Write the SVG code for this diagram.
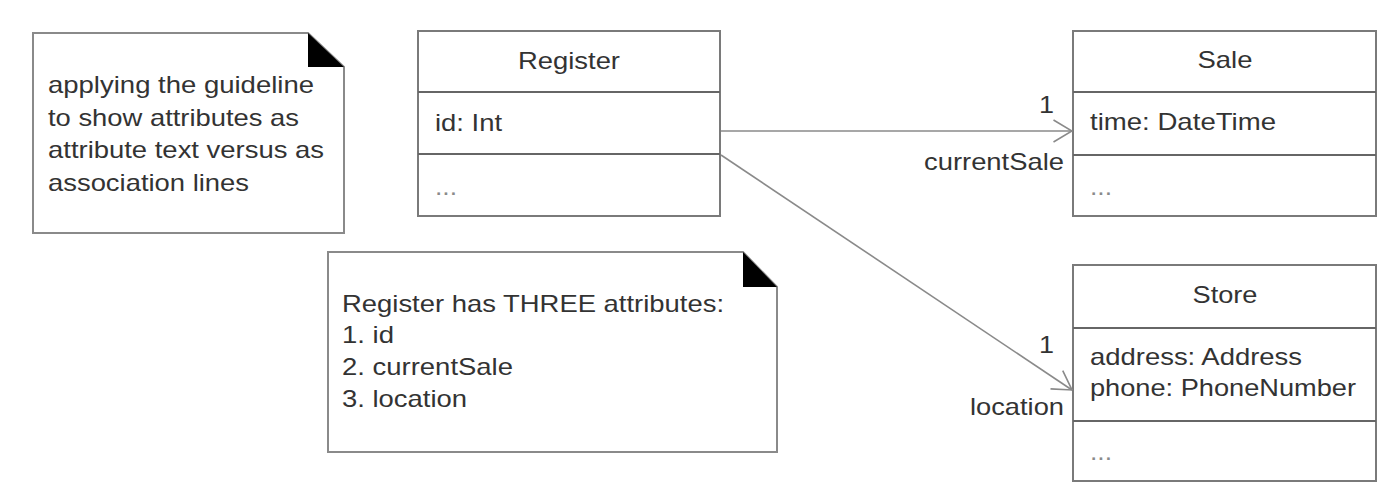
<svg xmlns="http://www.w3.org/2000/svg" width="1394" height="498" viewBox="0 0 1394 498">
  <style>
    .bg { fill: #ffffff; }
    .box { fill: #ffffff; stroke: #7a7a7a; stroke-width: 2; }
    .div { stroke: #666666; stroke-width: 2; }
    .note { fill: #ffffff; stroke: #8a8a8a; stroke-width: 2; }
    .fold { fill: #000000; }
    .t { font-family: "Liberation Sans", Arial, sans-serif; font-size: 24px; fill: #333333; }
    .c { text-anchor: middle; }
    .e { text-anchor: end; }
    .dots { fill: #8a8a8a; }
    .conn { stroke: #8a8a8a; stroke-width: 1.6; fill: none; }
  </style>
  <defs>
    <marker id="open" viewBox="0 0 20 24" refX="19.5" refY="12" markerWidth="20" markerHeight="24" markerUnits="userSpaceOnUse" orient="auto">
      <path d="M1,1 L19.5,12 L1,23" fill="none" stroke="#8a8a8a" stroke-width="1.6"/>
    </marker>
  </defs>
  <rect class="bg" x="0" y="0" width="1394" height="498"/>

  <g id="note-guideline">
    <path class="note" d="M33,33 L308,33 L344,67 L344,233 L33,233 Z"/>
    <path class="fold" d="M308,33 L344,67 L308,67 Z"/>
    <text class="t" x="48" y="93" textLength="266" lengthAdjust="spacingAndGlyphs">applying the guideline</text>
    <text class="t" x="48" y="126" textLength="251" lengthAdjust="spacingAndGlyphs">to show attributes as</text>
    <text class="t" x="48" y="158" textLength="276" lengthAdjust="spacingAndGlyphs">attribute text versus as</text>
    <text class="t" x="48" y="191" textLength="201" lengthAdjust="spacingAndGlyphs">association lines</text>
  </g>

  <g id="Register">
    <rect class="box" x="418" y="31" width="302" height="185"/>
    <line class="div" x1="418" y1="92" x2="720" y2="92"/>
    <line class="div" x1="418" y1="154" x2="720" y2="154"/>
    <text class="t c" x="569" y="69" textLength="102" lengthAdjust="spacingAndGlyphs">Register</text>
    <text class="t" x="435" y="131" textLength="67" lengthAdjust="spacingAndGlyphs">id: Int</text>
    <text class="t dots" x="435" y="195" textLength="22" lengthAdjust="spacingAndGlyphs">...</text>
  </g>

  <g id="Sale">
    <rect class="box" x="1073" y="31" width="303" height="185"/>
    <line class="div" x1="1073" y1="92" x2="1376" y2="92"/>
    <line class="div" x1="1073" y1="155" x2="1376" y2="155"/>
    <text class="t c" x="1225" y="68" textLength="55" lengthAdjust="spacingAndGlyphs">Sale</text>
    <text class="t" x="1090" y="130" textLength="186" lengthAdjust="spacingAndGlyphs">time: DateTime</text>
    <text class="t dots" x="1090" y="195" textLength="22" lengthAdjust="spacingAndGlyphs">...</text>
  </g>

  <g id="Store">
    <rect class="box" x="1073" y="265" width="303" height="216"/>
    <line class="div" x1="1073" y1="328" x2="1376" y2="328"/>
    <line class="div" x1="1073" y1="421" x2="1376" y2="421"/>
    <text class="t c" x="1225" y="303" textLength="65" lengthAdjust="spacingAndGlyphs">Store</text>
    <text class="t" x="1090" y="365" textLength="212" lengthAdjust="spacingAndGlyphs">address: Address</text>
    <text class="t" x="1090" y="396" textLength="266" lengthAdjust="spacingAndGlyphs">phone: PhoneNumber</text>
    <text class="t dots" x="1090" y="460" textLength="22" lengthAdjust="spacingAndGlyphs">...</text>
  </g>

  <g id="note-attributes">
    <path class="note" d="M328,252 L743,252 L777,287 L777,452 L328,452 Z"/>
    <path class="fold" d="M743,252 L777,287 L743,287 Z"/>
    <text class="t" x="342" y="312" textLength="382" lengthAdjust="spacingAndGlyphs">Register has THREE attributes:</text>
    <text class="t" x="342" y="343" textLength="52" lengthAdjust="spacingAndGlyphs">1. id</text>
    <text class="t" x="342" y="375" textLength="171" lengthAdjust="spacingAndGlyphs">2. currentSale</text>
    <text class="t" x="342" y="407" textLength="125" lengthAdjust="spacingAndGlyphs">3. location</text>
  </g>

  <g id="connectors">
    <line class="conn" x1="721" y1="131" x2="1072" y2="131" marker-end="url(#open)"/>
    <line class="conn" x1="721" y1="155" x2="1072" y2="390" marker-end="url(#open)"/>
    <text class="t e" x="1054" y="113" textLength="15" lengthAdjust="spacingAndGlyphs">1</text>
    <text class="t e" x="1064" y="170" textLength="140" lengthAdjust="spacingAndGlyphs">currentSale</text>
    <text class="t e" x="1054" y="353" textLength="15" lengthAdjust="spacingAndGlyphs">1</text>
    <text class="t e" x="1064" y="415" textLength="94" lengthAdjust="spacingAndGlyphs">location</text>
  </g>
</svg>
